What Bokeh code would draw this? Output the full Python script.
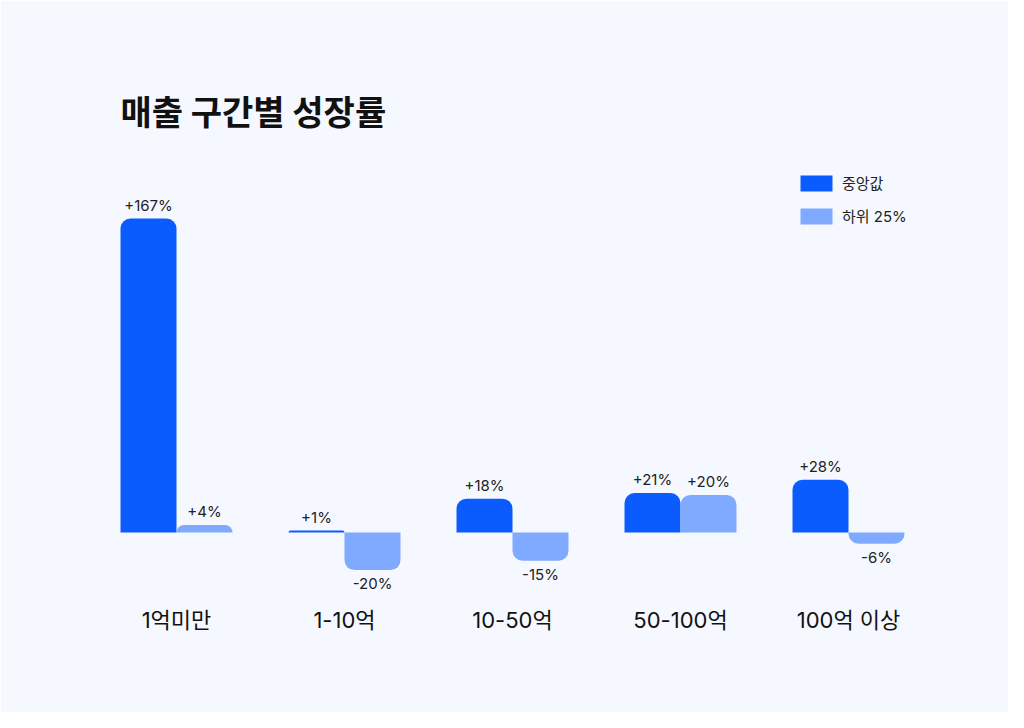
from bokeh.plotting import figure
from bokeh.models import ColumnDataSource, FactorRange, Range1d, Legend, LegendItem, Title
from bokeh.transform import dodge
from bokeh.core.properties import value
from bokeh.embed import file_html
from bokeh.resources import INLINE

categories = ["1억미만", "1-10억", "10-50억", "50-100억", "100억 이상"]
median = [167, 1, 18, 21, 28]
lower25 = [4, -20, -15, 20, -6]
series_names = ["중앙값", "하위 25%"]

BLUE = "#0B5CFF"
LIGHT = "#80AAFF"
BG = "#F5F8FF"
FONT = "Inter, 'Noto Sans CJK KR'"

p = figure(x_range=FactorRange(*categories), y_range=Range1d(-30.85, 203.2),
           width=1008, height=712, output_backend="svg", toolbar_location=None,
           min_border_left=92, min_border_right=76, min_border_top=150, min_border_bottom=122)
p.background_fill_color = BG
p.border_fill_color = BG
p.outline_line_color = None
p.grid.visible = False
p.yaxis.visible = False
p.xaxis.axis_line_color = None
p.xaxis.major_tick_line_color = None
p.xaxis.minor_tick_line_color = None
p.xaxis.major_label_text_font = FONT
p.xaxis.major_label_text_font_size = "22px"
p.xaxis.major_label_text_color = "#111111"
p.xaxis.major_label_standoff = 10


def split(vals):
    pos = dict(cat=[], v=[], lab=[])
    neg = dict(cat=[], v=[], lab=[])
    for c, v in zip(categories, vals):
        d = pos if v >= 0 else neg
        d["cat"].append(c)
        d["v"].append(v)
        d["lab"].append(("+" if v >= 0 else "") + f"{v}%")
    return ColumnDataSource(pos), ColumnDataSource(neg)


legend_items = []
for vals, color, off, name in [(median, BLUE, -1 / 6, series_names[0]),
                               (lower25, LIGHT, 1 / 6, series_names[1])]:
    pos, neg = split(vals)
    r1 = p.vbar(x=dodge("cat", off, range=p.x_range), top="v", bottom=0, width=1 / 3,
                source=pos, color=color, line_color=None, border_radius=(10, 10, 0, 0))
    r2 = p.vbar(x=dodge("cat", off, range=p.x_range), top=0, bottom="v", width=1 / 3,
                source=neg, color=color, line_color=None, border_radius=(0, 0, 10, 10))
    p.text(x=dodge("cat", off, range=p.x_range), y="v", text="lab", source=pos,
           text_align="center", text_baseline="bottom", y_offset=-4,
           text_font=value(FONT), text_font_size="15px", text_color="#222222")
    p.text(x=dodge("cat", off, range=p.x_range), y="v", text="lab", source=neg,
           text_align="center", text_baseline="top", y_offset=4,
           text_font=value(FONT), text_font_size="15px", text_color="#222222")
    legend_items.append(LegendItem(label=name, renderers=[r1]))

legend = Legend(items=legend_items, location=(704, 364), padding=0, margin=0,
                border_line_color=None, background_fill_alpha=0,
                glyph_width=40, glyph_height=20, label_height=20, spacing=12,
                label_standoff=6, label_text_font=FONT, label_text_font_size="15px",
                label_text_color="#222222")
p.add_layout(legend, "center")

title = Title(text="매출 구간별 성장률", align="left", offset=28, standoff=32,
              text_font="Noto Sans CJK KR", text_font_style="bold", text_font_size="34px",
              text_color="#111111")
p.add_layout(title, "above")

open("out.html", "w").write(file_html(p, INLINE))
